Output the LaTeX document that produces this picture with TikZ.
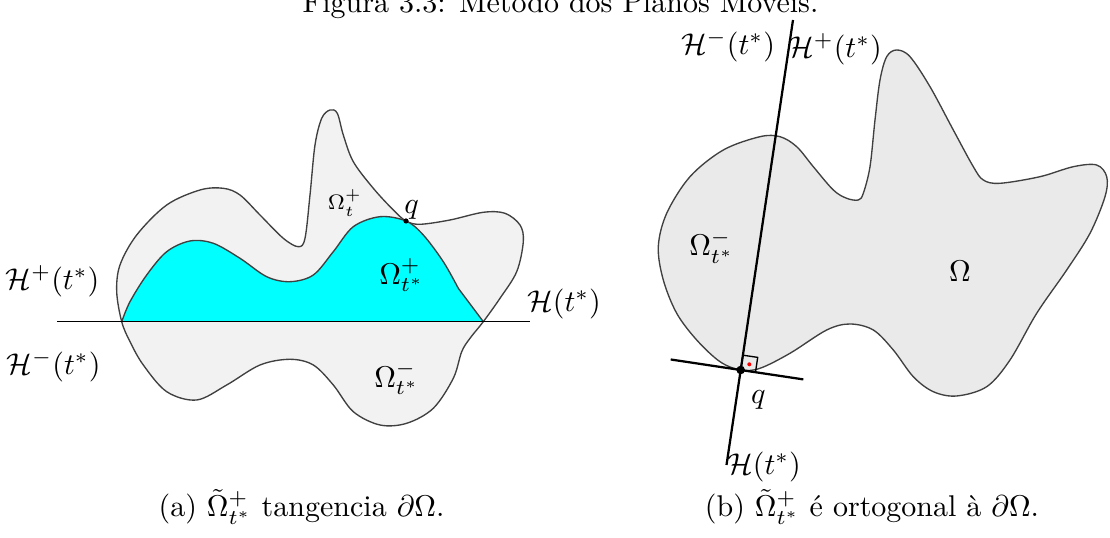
\documentclass[tikz,border=0pt]{standalone}
\usepackage{fontspec}
\begin{document}
\begin{tikzpicture}[x=0.3333pt,y=-0.3333pt,
  outline/.style={draw=black!75,line width=0.45pt},
  thinline/.style={draw=black,line width=0.45pt},
  thickline/.style={draw=black,line width=0.75pt},
  lbl/.style={inner sep=0pt,font=\fontsize{10}{12}\selectfont},
  smalllbl/.style={inner sep=0pt,font=\fontsize{7.5}{9}\selectfont}]
\useasboundingbox (0,0) rectangle (1110,538);
\definecolor{grayA}{HTML}{F2F2F2}
\definecolor{grayB}{HTML}{EAEAEA}
\definecolor{cyanA}{HTML}{00FFFF}

% title
\node[lbl,anchor=base] (title) at (560.5,13) {Figura 3.3: Método dos Planos Móveis.};

% ---------- (a) ----------
\draw[outline,fill=grayA] plot[smooth cycle,tension=0.55] coordinates {
(121.7,321.7) (116.7,291.7) (120,265) (136.7,235) (166.7,205) (200,190) (223.3,188.3)
(240,195) (260,215) (283.3,238.3) (298.3,246.7) (305,238.3) (310,195) (315,145)
(321.7,118.3) (330,110) (337.3,113.3) (343.3,135) (353.3,161.7) (373.3,188.3)
(393.3,210) (406,221) (420,224.3) (450,220) (483.3,212.3) (505,213.3) (520,225)
(523.3,241.7) (516.7,271.7) (500,298.3) (483.3,321.7) (470,338.3) (461.7,351.7)
(453.3,378.3) (433.3,408.3) (406.7,423.3) (380,425) (353.3,411.7) (333.3,385)
(313.3,365) (290,359.3) (260,365) (226.7,385) (196.7,400) (166.7,391.7) (143.3,365)
(130,341.7)};
\fill[cyanA] plot[smooth,tension=0.55] coordinates {
(121.7,321.7) (130,301.7) (146.7,275) (166.7,251.7) (190,241) (213.3,243.3) (240,258.3)
(266.7,276.7) (290,281.7) (313.3,275) (333.3,251.7) (353.3,226.7) (380,216.7) (406,221)
(423.3,235) (443.3,261.7) (458.3,288.3)} -- (483.3,321.7) -- cycle;
\draw[outline] plot[smooth,tension=0.55] coordinates {
(121.7,321.7) (130,301.7) (146.7,275) (166.7,251.7) (190,241) (213.3,243.3) (240,258.3)
(266.7,276.7) (290,281.7) (313.3,275) (333.3,251.7) (353.3,226.7) (380,216.7) (406,221)
(423.3,235) (443.3,261.7) (458.3,288.3)} -- (483.3,321.7);

\coordinate (hl) at (57,321.5);
\coordinate (hr) at (530,321.5);
\draw[thinline] (hl) -- (hr);
\coordinate (qa) at (406,221);
\fill (qa) circle[radius=2.6];

\node[lbl] (hpa) at (52.5,281) {$\mathcal{H}^{+}(t^{*})$};
\node[lbl] (hma) at (53.5,366) {$\mathcal{H}^{-}(t^{*})$};
\node[lbl] (ha) at (564,304) {$\mathcal{H}(t^{*})$};
\node[smalllbl] (omt) at (345,203) {$\Omega_{t}^{+}$};
\node[lbl] (qla) at (411.7,210) {$q$};
\node[lbl] (opa) at (401.7,275) {$\Omega_{t^{*}}^{+}$};
\node[lbl] (oma) at (396.7,378.3) {$\Omega_{t^{*}}^{-}$};
\node[lbl,anchor=base] (capa) at (301.5,517) {(a) $\tilde{\Omega}_{t^{*}}^{+}$ tangencia $\partial\Omega$.};

% ---------- (b) ----------
\draw[outline,fill=grayB] plot[smooth cycle,tension=0.55] coordinates {
(740.7,370) (760,368.3) (790,353.3) (826.7,330) (850,324) (873.3,330) (893.3,350)
(913.3,376.7) (933.3,391.7) (956.7,396) (986.7,386.7) (1010,360) (1036.7,313.3)
(1066.7,270) (1090,233.3) (1105,196.7) (1106.7,176.7) (1096.7,165) (1073.3,166.7)
(1040,176.7) (1000,183.3) (983.3,180) (973.3,166.7) (953.3,130) (930,86.7) (910,56.7)
(896.7,50) (886.7,56.7) (880,80) (875,120) (870,166.7) (863.3,193.3) (858.3,200)
(846.7,198.3) (833.3,190) (813.3,166.7) (796.7,146.7) (780,136.7) (760,136.7)
(723.3,150) (690,176.7) (666.7,213.3) (658.3,246.7) (663.3,280) (676.7,313.3)
(696.7,340) (720,361.7)};

\coordinate (qb) at (740.7,370);
\coordinate (ntop) at (793,20);
\coordinate (nbot) at (726.5,465);
\coordinate (tl) at (670.7,359.5);
\coordinate (tr) at (803.3,379.4);
\draw[thickline] (ntop) -- (nbot);
\draw[thickline] (tl) -- (tr);
\coordinate (ba) at (755.5,372.2);
\coordinate (bb) at (757.7,357.4);
\coordinate (bc) at (742.9,355.2);
\draw[thinline] (qb) -- (ba) -- (bb) -- (bc) -- cycle;
\fill[red] (749.3,364.3) circle[radius=2];
\fill (qb) circle[radius=4.3];

\node[lbl] (hmb) at (728,46) {$\mathcal{H}^{-}(t^{*})$};
\node[lbl] (hpb) at (835,49) {$\mathcal{H}^{+}(t^{*})$};
\node[lbl] (hb) at (764,467) {$\mathcal{H}(t^{*})$};
\node[lbl] (qlb) at (758.3,400) {$q$};
\node[lbl] (omb) at (711.7,246.7) {$\Omega_{t^{*}}^{-}$};
\node[lbl] (om) at (960,271) {$\Omega$};
\node[lbl,anchor=base] (capb) at (872,517) {(b) $\tilde{\Omega}_{t^{*}}^{+}$ é ortogonal à $\partial\Omega$.};
\end{tikzpicture}
\end{document}
